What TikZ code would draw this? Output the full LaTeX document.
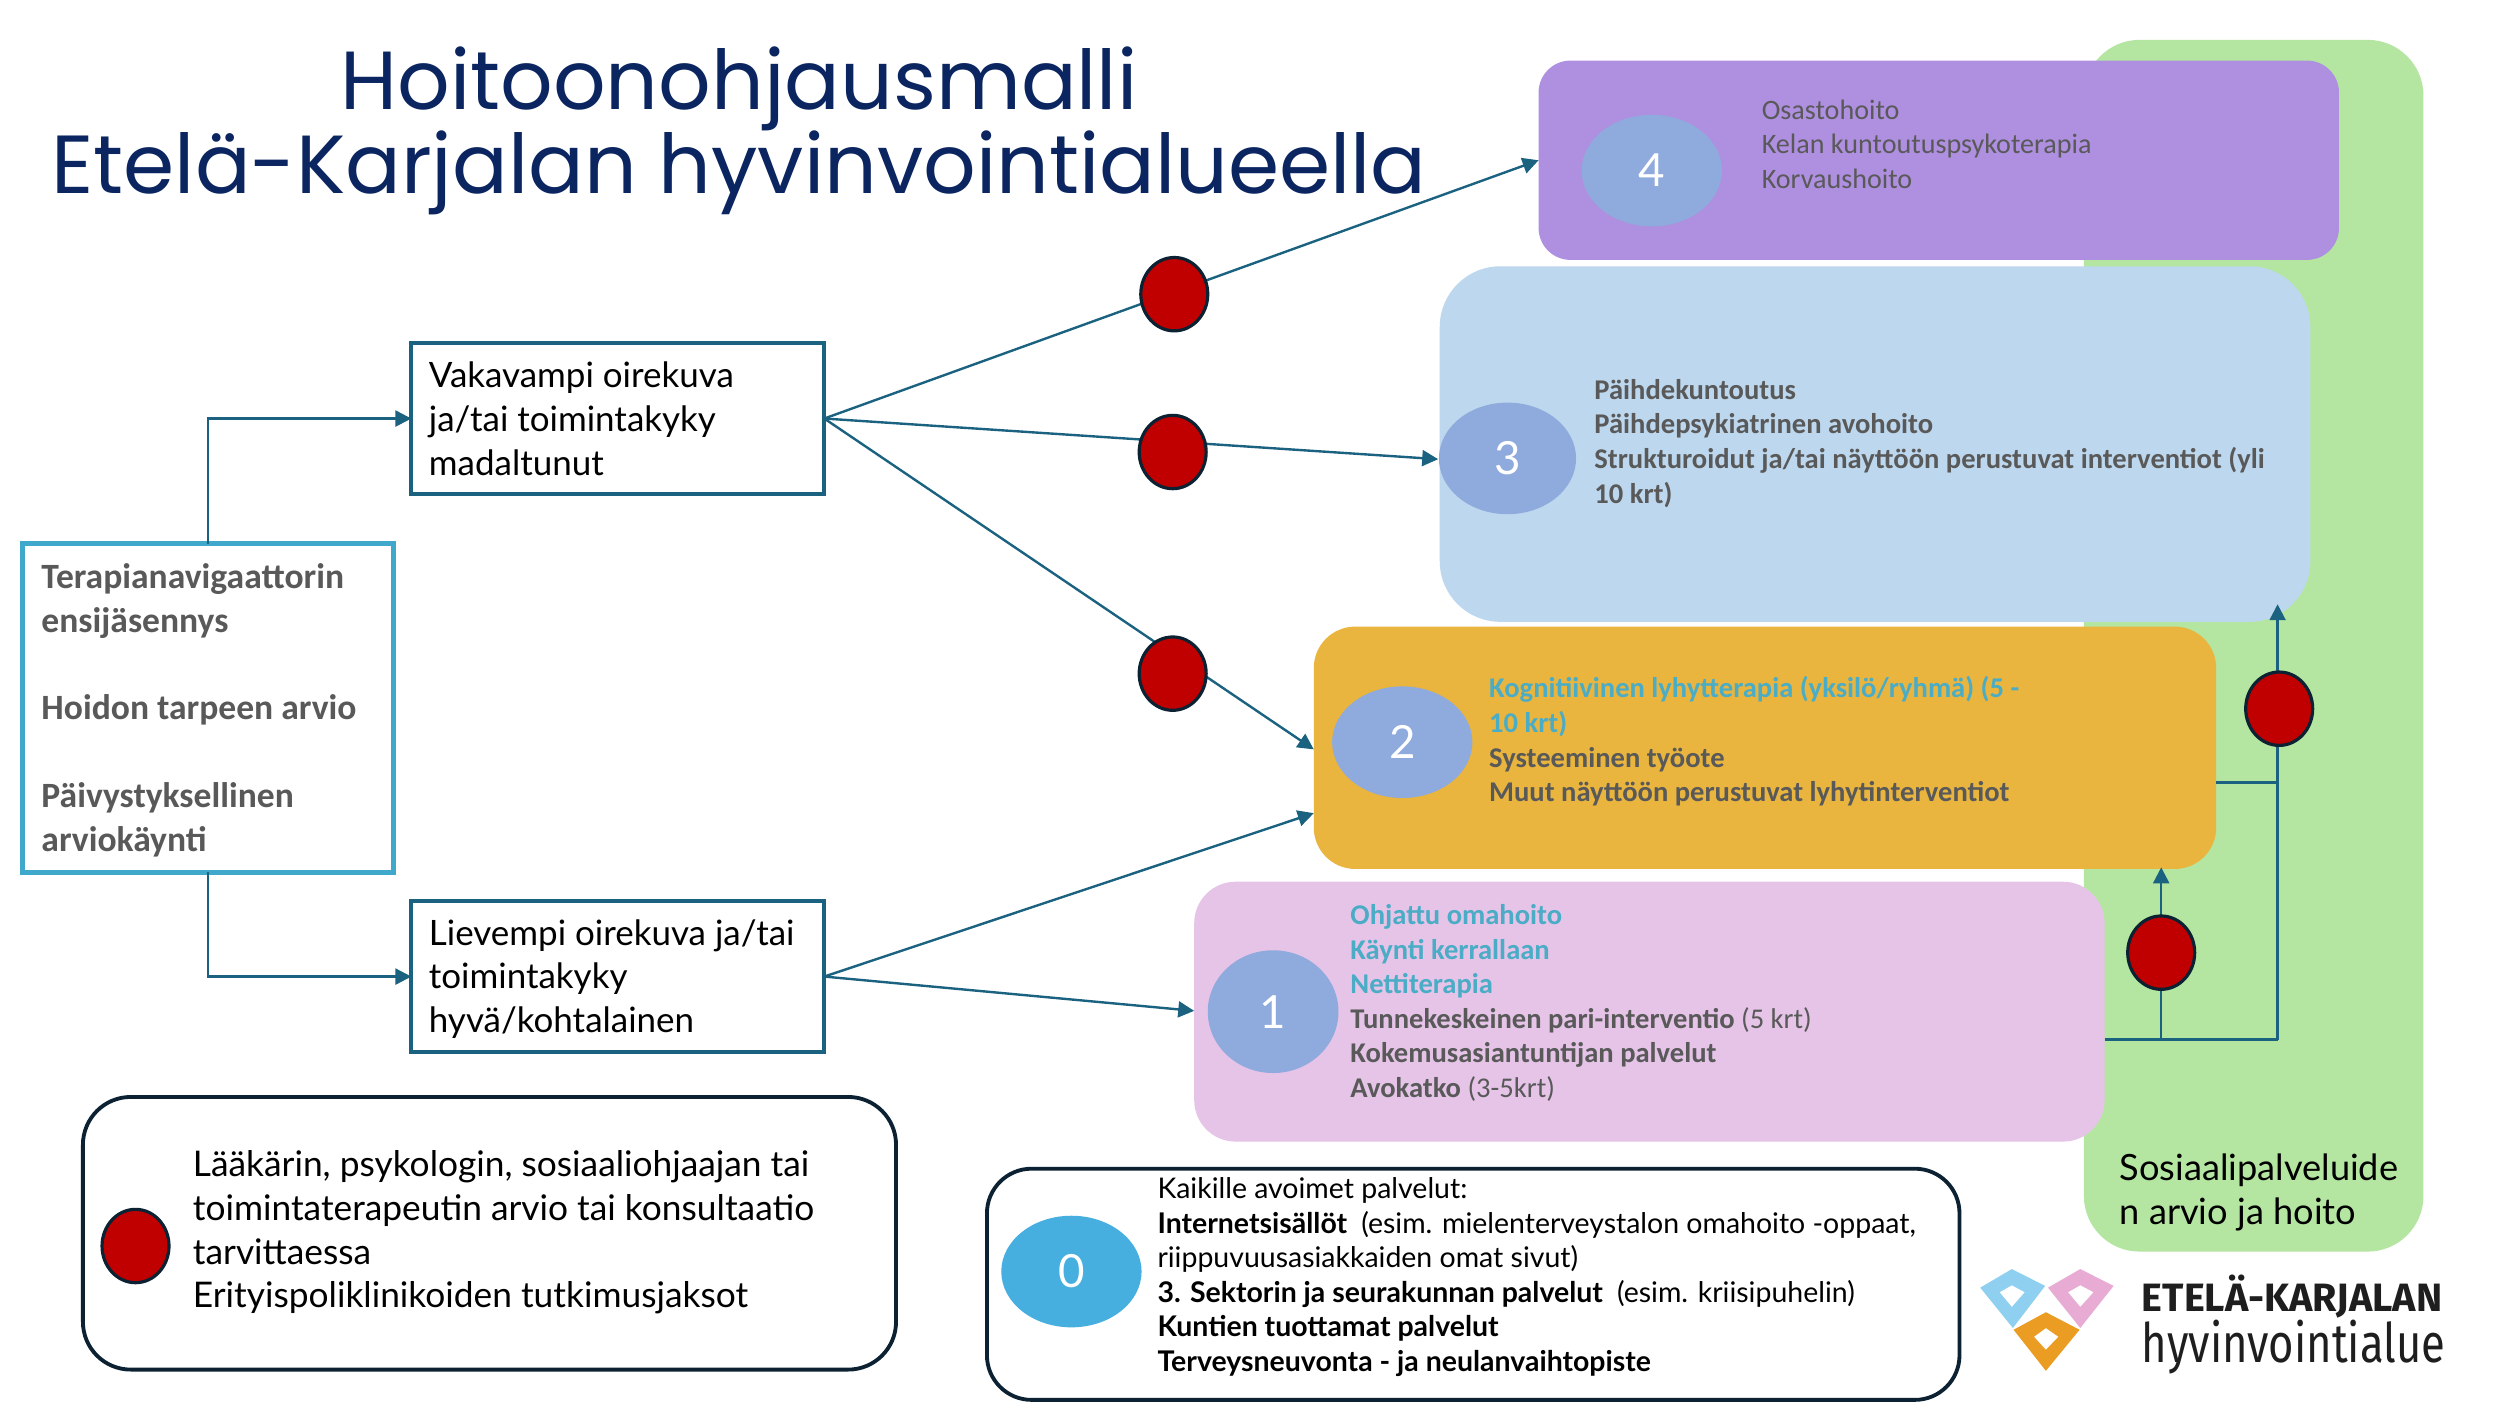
\documentclass[tikz,border=0pt]{standalone}
\usepackage{fontspec}
\setmainfont{Carlito}
\newfontfamily\apt{Lato}
\newfontfamily\ttl{Poppins}
\newfontfamily\lgo{Fira Sans}
\usetikzlibrary{arrows.meta,shapes.geometric}
\definecolor{navy}{HTML}{0C2233}
\definecolor{conn}{HTML}{1A6280}
\definecolor{greyt}{HTML}{595959}
\definecolor{tealt}{HTML}{4BACC6}
\definecolor{hotred}{HTML}{C00000}
\definecolor{HTMLtitle}{HTML}{0B2560}
\definecolor{HTMLgreen}{HTML}{B4E6A2}
\definecolor{HTMLpurple}{HTML}{AF8FE0}
\definecolor{HTMLblue}{HTML}{BDD7EE}
\definecolor{HTMLorange}{HTML}{E9B53F}
\definecolor{HTMLpink}{HTML}{E5C4E8}
\definecolor{HTMLcirc}{HTML}{8FAADC}
\definecolor{HTMLzero}{HTML}{46AFE0}
\definecolor{HTMLleft}{HTML}{3FA8CB}
\definecolor{HTMLlblue}{HTML}{8FD0F0}
\definecolor{HTMLlpink}{HTML}{E8ABD3}
\definecolor{HTMLlorange}{HTML}{EB9C22}
\definecolor{HTMLlogo}{HTML}{1E1E1E}
\def\pu{0.015944cm}
\tikzset{
 panel/.style={draw=none,inner sep=0,outer sep=0,rounded corners=#1*\pu},
 plain box/.style={draw=conn,line width=2.4*\pu,fill=white,inner sep=0,outer sep=0,minimum width=259*\pu,minimum height=95*\pu},
 num/.style={ellipse,inner sep=0,outer sep=0,text=white,font=\apt\fontsize{13}{15}\selectfont,fill=#1},
 reddot/.style={ellipse,draw=navy,line width=2*\pu,fill=hotred,inner sep=0,outer sep=0,minimum width=42*\pu,minimum height=46*\pu},
 conline/.style={draw=conn,line width=1.5*\pu},
 arr/.style={conline,-{Triangle[length=10*\pu,width=10*\pu]}},
 body/.style={anchor=west,align=left,inner sep=0,outer sep=0,text=greyt,font=\fontsize{8.0}{9.85}\selectfont},
 boldbody/.style={body,font=\bfseries\fontsize{8.13}{9.85}\selectfont},
 navtext/.style={anchor=west,align=left,inner sep=0,outer sep=0,text=greyt,font=\bfseries\fontsize{10.12}{12.45}\selectfont},
 blacktext/.style={anchor=west,align=left,inner sep=0,outer sep=0,text=black,font=\apt\fontsize{9.95}{12.45}\selectfont},
 zerotext/.style={anchor=west,align=left,inner sep=0,outer sep=0,text=black,font=\apt\fontsize{8.1}{9.8}\selectfont},
}
\begin{document}
\begin{tikzpicture}[x=\pu,y=-\pu]
\useasboundingbox (0,0) rectangle (1568,882);
\fill[white] (0,0) rectangle (1568,882);
% title
\node[anchor=center,inner sep=0,align=center,text=HTMLtitle,font=\ttl\fontsize{23.45}{24}\selectfont] (title) at (463.5,82) {Hoitoonohjausmalli\\Etelä-Karjalan hyvinvointialueella};
% panels
\node[panel=35,fill=HTMLgreen,minimum width=213*\pu,minimum height=760*\pu] (green) at (1413.5,405) {};
\node[panel=20,fill=HTMLpurple,minimum width=502*\pu,minimum height=125*\pu] (p4) at (1216,100.5) {};
\node[panel=38,fill=HTMLblue,minimum width=546*\pu,minimum height=223*\pu] (p3) at (1176,278.5) {};
\node[panel=26,fill=HTMLorange,minimum width=566*\pu,minimum height=152*\pu] (p2) at (1107,469) {};
\node[panel=26,fill=HTMLpink,minimum width=571*\pu,minimum height=163*\pu] (p1) at (1034.5,634.5) {};
% number circles
\node[num=HTMLcirc,minimum width=88*\pu,minimum height=70*\pu] (c4) at (1036,107) {4};
\node[num=HTMLcirc,minimum width=86*\pu,minimum height=70*\pu] (c3) at (945.5,287.5) {3};
\node[num=HTMLcirc,minimum width=88*\pu,minimum height=70*\pu] (c2) at (879.5,465.5) {2};
\node[num=HTMLcirc,minimum width=82*\pu,minimum height=77*\pu] (c1) at (798.5,634.5) {1};
% panel text
\node[body] (t4) at (1105,90.5) {Osastohoito\\Kelan kuntoutuspsykoterapia\\Korvaushoito};
\node[boldbody] (t3) at (1000,278) {Päihdekuntoutus\\Päihdepsykiatrinen avohoito\\Strukturoidut ja/tai näyttöön perustuvat interventiot (yli\\10 krt)};
\node[boldbody] (t2) at (934,465) {\textcolor{tealt}{Kognitiivinen lyhytterapia (yksilö/ryhmä) (5 -}\\\textcolor{tealt}{10 krt)}\\Systeeminen työote\\Muut näyttöön perustuvat lyhytinterventiot};
\node[boldbody] (t1) at (847,629) {\textcolor{tealt}{Ohjattu omahoito}\\\textcolor{tealt}{Käynti kerrallaan}\\\textcolor{tealt}{Nettiterapia}\\Tunnekeskeinen pari-interventio \mdseries(5 krt)\\Kokemusasiantuntijan palvelut\\Avokatko \mdseries(3-5krt)};
% left boxes
\node[draw=HTMLleft,line width=3*\pu,fill=white,inner sep=0,outer sep=0,minimum width=233*\pu,minimum height=206*\pu] (nav) at (130.5,444) {};
\node[navtext] (navt) at (26,445.5) {Terapianavigaattorin\\ensijäsennys\\[12.45pt]Hoidon tarpeen arvio\\[12.45pt]Päivystyksellinen\\arviokäynti};
\node[plain box] (vak) at (387.5,262.5) {};
\node[blacktext] (vakt) at (269,262.5) {Vakavampi oirekuva\\ja/tai toimintakyky\\madaltunut};
\node[plain box] (lie) at (387.5,612.5) {};
\node[blacktext] (liet) at (269,614) {Lievempi oirekuva ja/tai\\toimintakyky\\hyvä/kohtalainen};
\node[anchor=west,align=left,inner sep=0,text=black,font=\apt\fontsize{10.3}{12.45}\selectfont] (sos) at (1329,748) {Sosiaalipalveluide\\n arvio ja hoito};
% legend
\node[draw=navy,line width=2.4*\pu,rounded corners=30*\pu,fill=white,inner sep=0,minimum width=510*\pu,minimum height=171*\pu] (leg) at (307,773.5) {};
\node[blacktext,font=\apt\fontsize{10.05}{12.45}\selectfont] (legt) at (121,773) {Lääkärin, psykologin, sosiaaliohjaajan tai\\toimintaterapeutin arvio tai konsultaatio\\tarvittaessa\\Erityispoliklinikoiden tutkimusjaksot};
% box 0
\node[draw=navy,line width=2.4*\pu,rounded corners=28*\pu,fill=white,inner sep=0,minimum width=610*\pu,minimum height=145*\pu] (zero) at (924,805.5) {};
\node[num=HTMLzero,minimum width=88*\pu,minimum height=70*\pu] (c0) at (672,797.5) {0};
\node[zerotext] (zt) at (726,801) {Kaikille avoimet palvelut:\\\textbf{Internetsisällöt}\enspace(esim. mielenterveystalon omahoito -oppaat,\\riippuvuusasiakkaiden omat sivut)\\\textbf{3. Sektorin ja seurakunnan palvelut}\enspace(esim. kriisipuhelin)\\\textbf{Kuntien tuottamat palvelut}\\\textbf{Terveysneuvonta - ja neulanvaihtopiste}};
% connector ends
\coordinate (in3) at (902,288);
\coordinate (in2a) at (824,470);
\coordinate (in2b) at (824,510);
\coordinate (in1) at (749,634);
\coordinate (out1) at (1320,652);
\coordinate (out2) at (1390,491);
\coordinate (navup) at (130.5,341);
\coordinate (navdn) at (130.5,547);
\coordinate (j1) at (1355.5,652);
\coordinate (j2) at (1428.5,652);
\coordinate (j3) at (1428.5,491);
\coordinate (top3) at (1428.5,379);
\coordinate (top2) at (1355.5,544);
% connectors
\draw[arr] (navup) |- (vak.west);
\draw[arr] (navdn) |- (lie.west);
\draw[arr] (vak.east) -- (p4.west);
\draw[arr] (vak.east) -- (in3);
\draw[arr] (vak.east) -- (in2a);
\draw[arr] (lie.east) -- (in2b);
\draw[arr] (lie.east) -- (in1);
\draw[conline,line width=2*\pu] (out1) -- (j2);
\draw[conline,line width=2*\pu] (out2) -- (j3);
\draw[arr] (j2) -- (top3);
\draw[arr] (j1) -- (top2);
% red dots
\node[reddot] (r4) at (736.5,184.5) {};
\node[reddot] (r3) at (735.5,283.5) {};
\node[reddot] (r2) at (735.5,422.5) {};
\node[reddot] (rs) at (1429.5,444.5) {};
\node[reddot] (rp) at (1355.5,597.5) {};
\node[reddot] (rl) at (85,781.5) {};
% logo
\begin{scope}[shift={(1223.3,777.9)},scale=0.2201]
 \fill[HTMLlblue,even odd rule] (85,135)--(175,82)--(270,130)--(178,250)--cycle (140,148)--(175,128)--(212,148)--(175,190)--cycle;
 \fill[HTMLlpink,even odd rule] (278,135)--(370,82)--(465,130)--(370,250)--cycle (335,148)--(370,128)--(408,148)--(370,190)--cycle;
 \fill[HTMLlorange,even odd rule] (180,255)--(272,205)--(368,255)--(272,372)--cycle (238,275)--(272,250)--(308,275)--(272,312)--cycle;
\end{scope}
\node[anchor=west,inner sep=0,font=\lgo\bfseries\fontsize{11.25}{12}\selectfont,text=HTMLlogo] (lg1) at (1343,813) {ETELÄ-KARJALAN};
\node[anchor=west,inner sep=0,font=\lgo\fontsize{15.5}{16}\selectfont,text=HTMLlogo] (lg2) at (1343,845) {\scalebox{0.8}[1]{hyvinvointialue}};
\end{tikzpicture}
\end{document}
